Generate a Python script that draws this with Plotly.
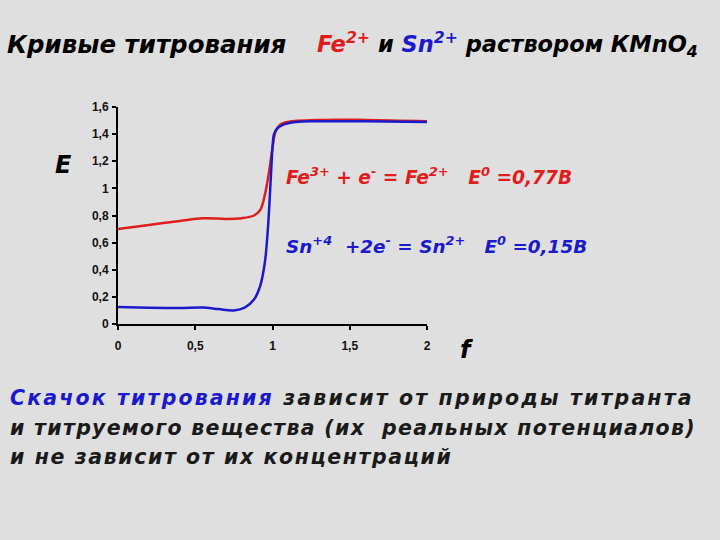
import plotly.graph_objects as go

# titration curves (f vs E, volts)
fe_f = [0, 0.2, 0.4, 0.55, 0.7, 0.8, 0.88, 0.92, 0.95, 0.98, 1.0, 1.02, 1.05, 1.1, 1.3, 1.6, 2.0]
fe_e = [0.70, 0.73, 0.76, 0.78, 0.775, 0.78, 0.80, 0.84, 0.95, 1.14, 1.30, 1.42, 1.47, 1.49, 1.505, 1.505, 1.495]

sn_f = [0, 0.2, 0.4, 0.55, 0.65, 0.75, 0.82, 0.88, 0.92, 0.95, 0.97, 0.99, 1.0, 1.01, 1.03, 1.07, 1.15, 1.3, 1.6, 2.0]
sn_e = [0.125, 0.12, 0.118, 0.122, 0.11, 0.10, 0.12, 0.18, 0.28, 0.45, 0.70, 1.10, 1.30, 1.40, 1.44, 1.47, 1.49, 1.495, 1.495, 1.49]

x_ticks = [0, 0.5, 1, 1.5, 2]
x_labels = ["0", "0,5", "1", "1,5", "2"]
y_ticks = [0, 0.2, 0.4, 0.6, 0.8, 1, 1.2, 1.4, 1.6]
y_labels = ["0", "0,2", "0,4", "0,6", "0,8", "1", "1,2", "1,4", "1,6"]

RED = "#e01c1c"
BLUE = "#1a1acc"
BG = "#dfdfdf"
FONT = "DejaVu Sans"

# plot area in pixels
L, R, T, B = 118, 427, 107, 324
W, H = 720, 540


def pos(px, py):
    # pixel -> paper coords
    return (px - L) / (R - L), (B - py) / (B - T)


def wide(t, sp):
    # the slide font is stretched, pad letters a bit
    return f"<span style='letter-spacing:{sp}px'>{t}</span>"


fig = go.Figure()
fig.add_trace(go.Scatter(x=fe_f, y=fe_e, mode="lines", line=dict(color=RED, width=2.5, shape="spline")))
fig.add_trace(go.Scatter(x=sn_f, y=sn_e, mode="lines", line=dict(color=BLUE, width=2.5, shape="spline")))

texts = [
    # (px, py, text, size, color)
    (5, 45, "<b><i>Кривые титрования</i></b>", 24.5, "black"),
    (315, 45, f"<b><i><span style='color:{RED}'>Fe<sup>2+</sup></span> и "
              f"<span style='color:{BLUE}'>Sn<sup>2+</sup></span> раствором КМnO<sub>4</sub></i></b>", 22.5, "black"),
    (53, 165, "<b><i>E</i></b>", 24, "black"),
    (458, 350, "<b><i>f</i></b>", 24, "black"),
    (284, 176, "<b><i>Fe<sup>3+</sup> + e<sup>-</sup> = Fe<sup>2+</sup>   E<sup>0</sup> =0,77B</i></b>", 18.6, RED),
    (284, 245, "<b><i>Sn<sup>+4</sup>  +2e<sup>-</sup> = Sn<sup>2+</sup>   E<sup>0</sup> =0,15B</i></b>", 18.4, BLUE),
    (8, 398, "<b><i>" + wide(f"<span style='color:{BLUE}'>Скачок титрования</span> зависит от природы титранта", 2.15) + "</i></b>", 20.5, "#1a1a1a"),
    (8, 428, "<b><i>" + wide("и титруемого вещества (их  реальных потенциалов)", 1.3) + "</i></b>", 20.5, "#1a1a1a"),
    (8, 457, "<b><i>" + wide("и не зависит от их концентраций", 1.6) + "</i></b>", 20.5, "#1a1a1a"),
]
for px, py, t, size, col in texts:
    ax, ay = pos(px, py)
    fig.add_annotation(x=ax, y=ay, xref="paper", yref="paper", text=t, showarrow=False,
                       xanchor="left", yanchor="middle", font=dict(family=FONT, size=size, color=col))

axis_style = dict(showline=True, linecolor="black", linewidth=2, showgrid=False, zeroline=False,
                  ticks="outside", ticklen=4, tickwidth=2, tickcolor="black",
                  tickfont=dict(family="Liberation Sans", size=12, color="#111", weight="bold"))
fig.update_xaxes(range=[0, 2], tickvals=x_ticks, ticktext=x_labels, ticklabelstandoff=6, **axis_style)
fig.update_yaxes(range=[0, 1.6], tickvals=y_ticks, ticktext=y_labels, ticklabelstandoff=1, **axis_style)

fig.update_layout(
    width=W, height=H, showlegend=False,
    paper_bgcolor=BG, plot_bgcolor=BG,
    margin=dict(l=L, r=W - R, t=T, b=H - B),
)
fig.write_html("out.html", config={"displayModeBar": False},
               post_script="document.body.style.margin='0';document.body.style.background='%s';" % BG)
